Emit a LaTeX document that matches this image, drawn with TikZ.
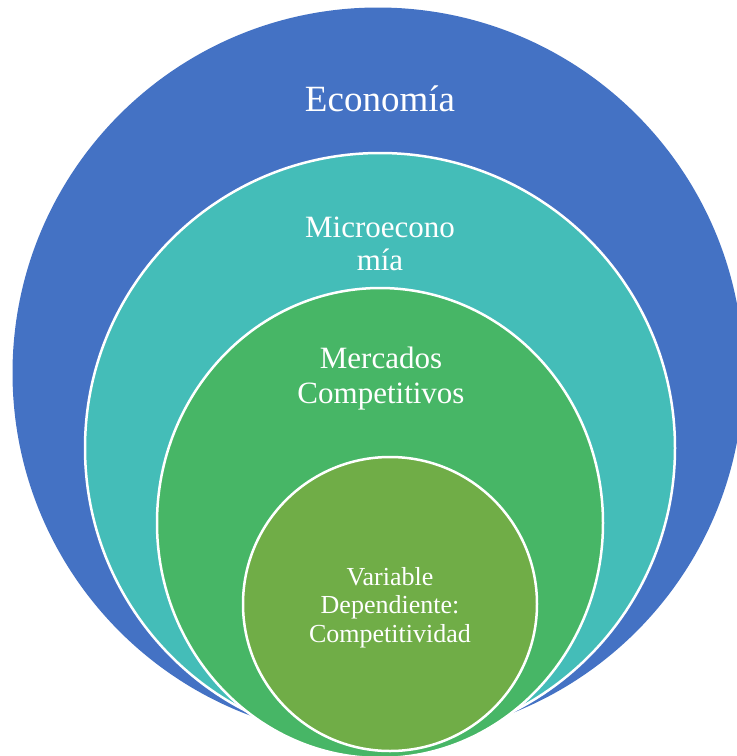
\documentclass[tikz,border=0pt]{standalone}
\usepackage{fontspec}
\setmainfont{Liberation Serif}
\usetikzlibrary{shapes.geometric,positioning}

\definecolor{econblue}{HTML}{4472C4}
\definecolor{microteal}{HTML}{44BDB8}
\definecolor{marketgreen}{HTML}{47B666}
\definecolor{varolive}{HTML}{70AD47}

\begin{document}
\begin{tikzpicture}[
    x=1pt, y=-1pt,
    ring node/.style={circle,draw=white,line width=2.5pt,inner sep=0pt},
    oval node/.style={ellipse,draw=white,line width=2.5pt,inner sep=0pt},
    label node/.style={text=white,align=center,inner sep=0pt,anchor=base}
]

% Frame
\clip (0,0) rectangle (737,756);

% Circles
\node[ring node, fill=econblue, draw=none, minimum size=731pt] (econ) at (378,373) {};
\node[ring node, fill=microteal, minimum size=590pt] (micro) at (380,448) {};
\node[oval node, fill=marketgreen, minimum width=446pt, minimum height=470pt] (market) at (380,523) {};
\node[ring node, fill=varolive, minimum size=294pt] (var) at (390,604) {};

% Labels (base = last line)
\node[label node, font=\fontsize{37}{40}\selectfont] (econtext) at (380,111) {Economía};
\node[label node, font=\fontsize{31}{33}\selectfont] (microtext) at (380,270) {Microecono\\mía};
\node[label node, font=\fontsize{31}{35}\selectfont] (markettext) at (381,403) {Mercados\\Competitivos};
\node[label node, font=\fontsize{26}{28.5}\selectfont] (vartext) at (390,642) {Variable\\Dependiente:\\Competitividad};

\end{tikzpicture}
\end{document}
